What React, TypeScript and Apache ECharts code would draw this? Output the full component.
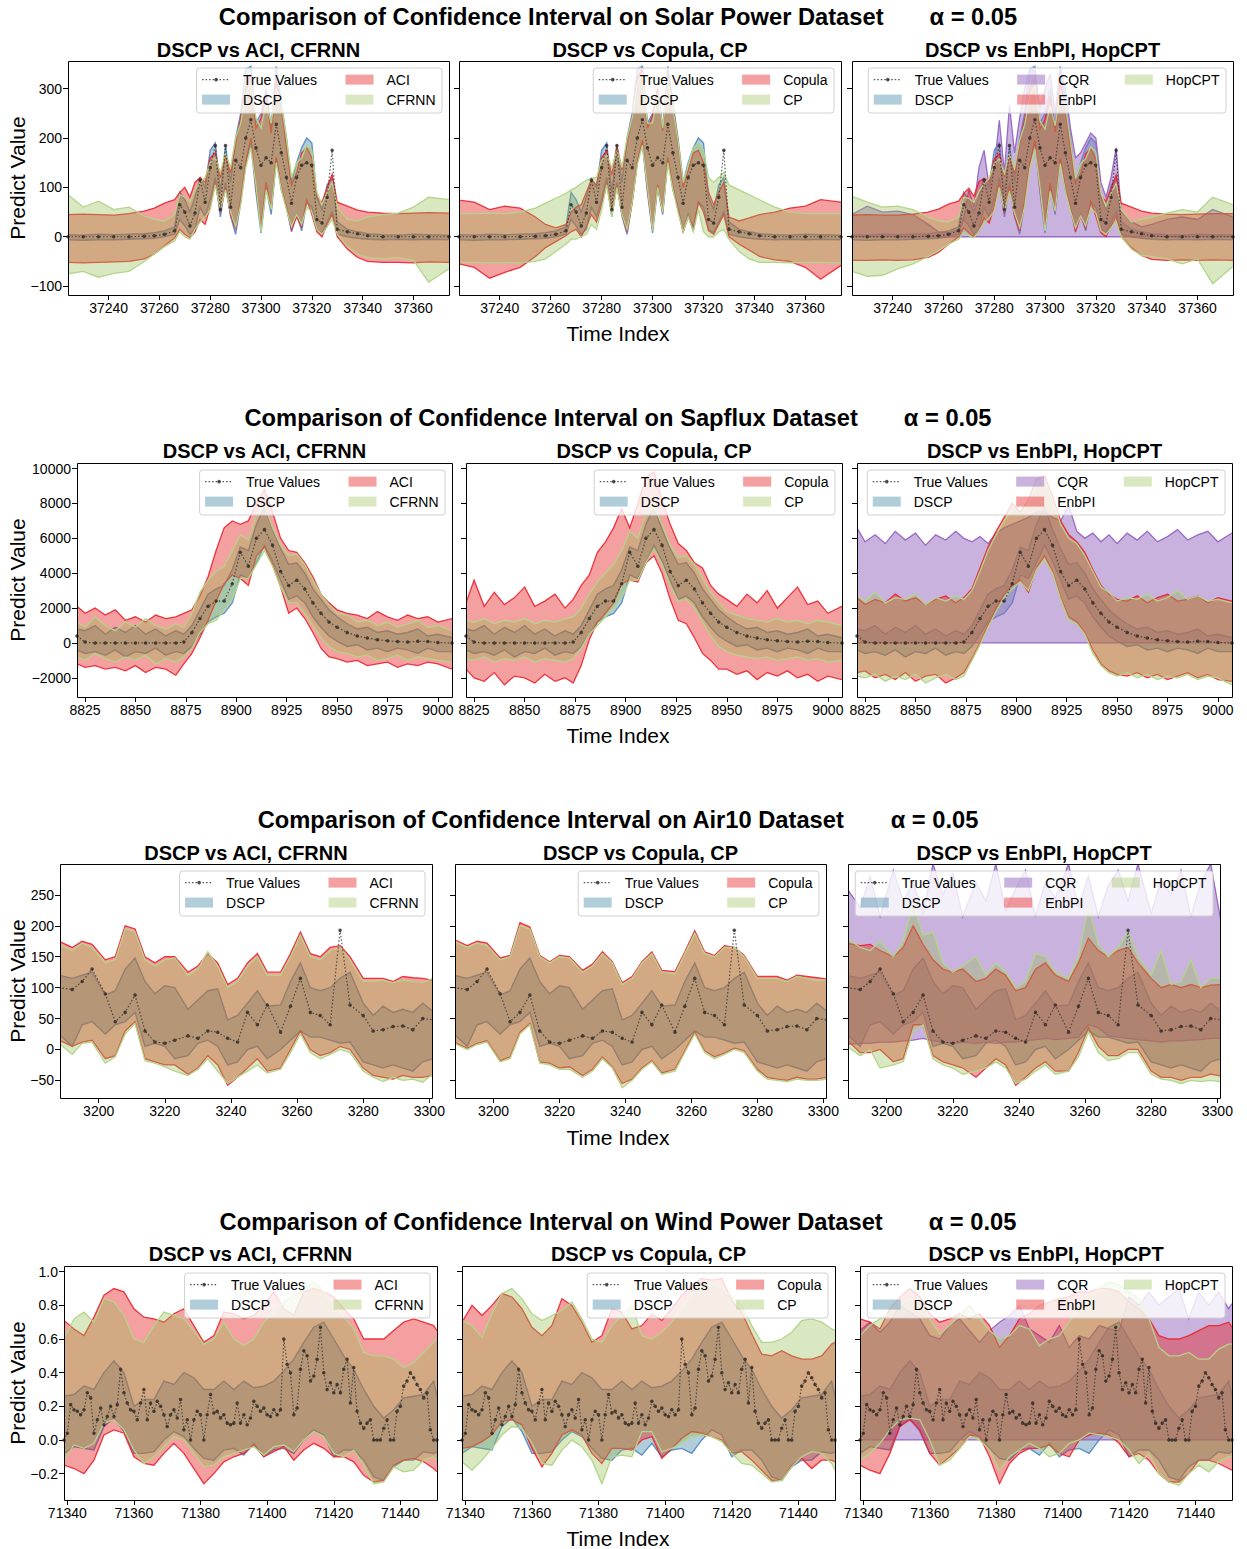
import React, { useEffect, useRef } from "react";
import * as echarts from "echarts";

// ================= Solar Power =================
const solarX = [37224,37230,37236,37242,37248,37254,37258,37262,37266,37268,37270,37272,37274,37276,37278,37280,37282,37284,37286,37288,37290,37292,37294,37296,37298,37300,37302,37304,37306,37308,37310,37312,37314,37316,37318,37320,37322,37324,37326,37328,37330,37334,37338,37342,37348,37354,37360,37366,37374];
const solarTrue = [0,0,0,0,0,1,2,5,12,65,50,22,48,115,70,140,185,55,185,60,155,140,200,237,180,145,160,150,228,170,120,68,120,145,150,145,35,28,80,175,15,10,6,2,0,0,0,0,0];
const solarDscpLo = [-6,-7,-6,-6,-5,-4,-3,0,5,35,22,5,15,60,40,75,120,40,110,42,5,70,150,190,90,8,100,45,160,95,60,10,45,12,70,60,15,8,30,50,5,0,-3,-5,-6,-5,-6,-5,-6];
const solarDscpHi = [4,3,5,4,5,6,8,12,20,90,75,50,80,118,100,175,190,90,185,110,200,250,340,345,230,250,300,220,345,270,200,110,150,180,200,190,80,55,105,120,30,15,10,6,4,3,5,4,3];
const solarAciLo = [-52,-53,-52,-51,-50,-45,-35,-18,-2,15,5,-2,10,35,25,60,110,50,100,45,15,75,150,200,100,20,110,55,160,100,60,15,40,20,75,45,10,0,25,45,0,-25,-42,-50,-52,-52,-53,-51,-52];
const solarAciHi = [45,46,45,44,47,52,58,68,75,90,100,80,110,120,110,160,170,120,165,130,190,240,300,330,220,240,290,210,320,260,180,105,130,170,180,160,80,70,100,127,70,62,54,50,48,47,48,49,48];
const solarCfrnnLo = [-75,-70,-82,-74,-70,-50,-35,-20,-8,10,0,-5,15,30,40,55,105,55,95,50,20,65,140,180,105,10,95,55,150,95,55,20,45,25,60,50,15,5,20,35,5,-20,-35,-42,-45,-42,-48,-92,-65];
const solarCfrnnHi = [85,60,72,55,60,42,35,32,45,85,80,70,95,110,120,150,160,130,170,140,200,230,290,310,240,220,270,230,300,270,200,120,150,160,185,175,90,65,90,110,60,35,32,40,45,48,60,80,75];
const solarCopulaLo = [-55,-62,-84,-72,-62,-40,-22,-10,2,10,15,0,20,45,30,65,110,45,105,45,10,70,150,195,95,15,105,50,160,100,55,10,40,20,70,50,12,5,25,45,0,-15,-27,-40,-47,-50,-62,-86,-58];
const solarCopulaHi = [74,70,55,62,58,40,25,18,25,50,60,65,90,115,105,160,175,125,185,135,190,240,320,340,220,245,300,215,330,265,190,100,135,170,175,150,90,65,90,110,40,32,38,45,50,58,62,75,70];
const solarCpLo = [-52,-52,-53,-52,-53,-50,-45,-30,-15,-5,-5,0,5,25,15,55,105,40,100,45,15,70,145,185,100,12,100,50,150,95,50,10,40,10,55,10,0,0,10,15,-5,-30,-45,-52,-52,-53,-52,-52,-53];
const solarCpHi = [47,47,48,47,50,58,68,78,88,95,100,108,115,118,120,155,165,140,175,140,200,240,310,330,230,230,290,220,320,260,195,110,145,180,190,175,120,110,120,130,105,95,85,75,60,50,47,47,47];
const solarCqrLo = [0,0,0,0,0,0,0,0,0,0,0,0,0,0,0,0,0,0,0,0,0,0,0,0,0,0,0,0,0,0,0,0,0,0,0,0,0,0,0,0,0,0,0,0,0,0,0,0,0];
const solarCqrHi = [45,62,50,52,45,25,10,8,15,40,95,60,140,175,100,140,236,130,266,170,240,300,340,335,260,300,330,250,340,300,220,160,170,190,210,200,110,80,120,180,50,30,20,25,35,40,35,55,40];
const solarEnbpiLo = [-48,-48,-47,-48,-47,-42,-32,-15,0,18,8,0,12,38,28,62,108,48,102,42,12,72,148,195,98,18,108,52,158,98,58,12,42,18,72,42,8,0,22,42,0,-22,-38,-46,-48,-47,-48,-47,-48];
const solarEnbpiHi = [44,45,44,44,46,50,56,66,72,88,98,82,112,118,112,158,168,122,162,128,188,238,298,325,218,238,285,212,315,255,178,108,128,168,178,158,82,72,98,125,68,60,52,48,46,45,46,47,47];
const solarHopLo = [-70,-80,-78,-65,-55,-40,-28,-15,-5,8,2,-2,12,28,38,52,100,52,92,48,18,62,138,178,102,12,92,52,148,92,52,18,42,22,58,48,12,5,18,30,0,-25,-38,-40,-45,-55,-45,-95,-60];
const solarHopHi = [82,70,60,62,55,40,32,30,40,80,78,70,92,108,118,148,158,128,168,138,195,228,285,305,235,218,265,225,295,265,195,118,148,158,182,172,88,62,88,108,55,30,35,40,48,55,50,80,65];
const solarXTicks = [37240, 37260, 37280, 37300, 37320, 37340, 37360];
const solarYTicks = [-100, 0, 100, 200, 300];

// ================= Sapflux =================
const sapX = [8821,8825,8830,8835,8840,8845,8850,8855,8860,8865,8870,8874,8878,8882,8886,8890,8894,8898,8902,8906,8910,8914,8918,8922,8926,8930,8934,8938,8942,8946,8950,8955,8960,8965,8970,8975,8980,8985,8990,8995,9000,9007];
const sapTrue = [400,50,0,0,0,0,0,0,0,0,0,50,600,1400,2100,2400,2400,3400,5200,4400,6000,6500,5600,4100,3300,3600,3100,2300,1700,1200,900,600,400,280,180,120,80,50,100,80,20,0];
const sapDscpLo = [-400,-600,-500,-700,-400,-800,-500,-600,-300,-700,-500,-600,-200,500,1200,1500,1700,2300,3900,3700,4600,5600,4700,3600,2500,2700,2300,1500,900,400,100,-200,-100,-400,-300,-500,-300,-400,-600,-300,-500,-500];
const sapDscpHi = [800,700,1000,500,900,600,1000,500,800,400,700,500,1000,1900,2800,3100,3300,4200,5500,5300,6800,7800,6500,5400,4500,4600,4000,3100,2500,1900,1500,1100,800,900,600,700,500,600,800,400,500,300];
const sapAciLo = [-1200,-1400,-1300,-1500,-1400,-1600,-1300,-1700,-1400,-1500,-1850,-1200,-600,300,1300,2400,3400,3900,3700,3300,5000,5500,4500,3200,1700,2000,1400,600,-300,-800,-900,-1100,-1000,-1300,-1200,-1100,-1400,-1200,-1300,-1100,-1200,-1500];
const sapAciHi = [2100,1700,2000,1600,1900,1300,1500,1200,1600,1400,1500,1700,1900,2700,3800,5300,6600,7000,6800,7000,8000,8800,7500,6000,5300,5200,4600,3800,2800,2300,1900,1700,1600,1400,1800,1500,1300,1600,1400,1500,1200,1400];
const sapCfrnnLo = [-800,-1000,-600,-900,-1100,-800,-1000,-700,-1200,-900,-1100,-800,-300,600,1100,1300,1900,2500,3700,3700,4500,5300,4400,3200,2300,2300,1700,1000,300,-200,-500,-600,-800,-700,-1000,-900,-700,-1000,-800,-900,-1000,-1100];
const sapCfrnnHi = [1200,900,1500,1000,700,1200,900,1400,1000,800,1100,900,1700,2900,3600,4100,4400,5300,6200,5900,7300,7900,6600,5600,5000,5100,4500,3600,2800,2200,1700,1600,1200,1300,1000,1200,900,1100,1300,900,1000,700];
const sapCopulaLo = [-1500,-2000,-2200,-1700,-2400,-1900,-2000,-2300,-1800,-2200,-2000,-2300,-1300,200,1200,1700,2300,3400,3600,3500,4600,5000,4000,2500,1300,1100,300,-600,-1000,-1500,-1500,-1800,-1600,-2100,-1700,-1900,-1600,-2000,-1800,-2200,-1900,-2100];
const sapCopulaHi = [2300,3600,2100,2900,2200,2600,3200,2100,2400,2800,2000,2500,3300,3900,5200,5800,6600,7700,6600,8000,9500,9800,8200,6800,5700,5300,4600,4300,3300,2800,2500,2100,2800,2300,3000,2000,2600,3200,2200,2400,1700,2100];
const sapCpLo = [-900,-1000,-800,-1100,-900,-1000,-800,-1100,-900,-1000,-1100,-900,-300,500,1000,1500,2000,2600,3600,3600,4600,5400,4500,3300,2400,2500,2000,1200,400,-200,-500,-700,-800,-900,-800,-1000,-900,-800,-1000,-900,-1100,-1000];
const sapCpHi = [1300,1200,1400,1100,1300,1200,1400,1100,1300,1200,1400,1500,2000,2800,3500,4000,4500,5300,6400,6000,7400,7800,6800,5600,4900,5000,4500,3700,2900,2300,1800,1600,1400,1300,1200,1400,1200,1300,1100,1300,1200,1000];
const sapCqrLo = [0,0,0,0,0,0,0,0,0,0,0,0,0,0,0,0,0,0,0,0,0,0,0,0,0,0,0,0,0,0,0,0,0,0,0,0,0,0,0,0,0,0];
const sapCqrHi = [6600,5800,6200,5700,6400,5900,6300,5600,6200,5900,6400,6000,5800,6100,5700,6300,6600,6800,7000,7200,7500,7600,7200,7000,7900,6400,6000,6300,5800,6200,5700,6300,5900,6400,5800,6100,6500,5900,6200,6400,5800,6300];
const sapEnbpiLo = [-1700,-1600,-2000,-1800,-2100,-1700,-2200,-1900,-1800,-2300,-2000,-1700,-900,0,1000,2000,2800,3300,3600,2900,4300,5000,4100,2600,1500,1200,600,-400,-1200,-1600,-1800,-1900,-1700,-2000,-1800,-2100,-1900,-1700,-2000,-1800,-2100,-2200];
const sapEnbpiHi = [2600,2200,2500,2300,2800,2400,2600,2200,2500,2700,2300,2600,3100,4300,5500,6400,7200,8000,7500,8200,9400,9600,8400,7000,6200,5800,5200,4200,3300,2800,2500,2400,2700,2300,2600,2800,2400,2500,2700,2300,2600,2400];
const sapHopLo = [-1900,-2000,-1800,-2200,-1900,-2100,-1800,-2300,-2000,-1800,-2100,-1900,-1000,-100,900,1800,2600,3100,3500,3000,4200,4800,4000,2500,1300,1100,500,-600,-1300,-1700,-1900,-1700,-2000,-1800,-2100,-1900,-2000,-1800,-2100,-1900,-2000,-2400];
const sapHopHi = [2700,2400,2900,2300,2600,2500,2800,2200,2600,2400,2700,2500,3000,4100,5300,6200,7000,7700,7400,8000,9200,9400,8200,6800,6000,5700,5000,4100,3200,2900,2400,2600,2500,2800,2400,2600,3000,2500,2700,2400,2500,2300];
const sapXTicks = [8825, 8850, 8875, 8900, 8925, 8950, 8975, 9000];
const sapYTicks = [-2000, 0, 2000, 4000, 6000, 8000, 10000];

// ================= Air10 =================
const airX = [3188,3192,3195,3198,3202,3205,3208,3211,3214,3217,3220,3223,3227,3230,3233,3236,3239,3242,3245,3248,3251,3255,3258,3261,3264,3267,3270,3273,3276,3280,3283,3286,3289,3292,3295,3298,3301];
const airTrue = [100,97,110,130,90,45,60,88,30,12,10,15,22,18,30,28,18,12,60,40,72,28,70,115,60,55,40,193,72,55,30,32,37,38,32,50,48];
const airDscpLo = [25,5,40,45,25,40,45,60,5,10,5,-15,-10,10,15,5,-25,-20,0,5,-15,0,15,30,20,20,15,10,12,-20,-25,-30,-25,-30,-35,-20,-15];
const airDscpHi = [120,115,120,125,88,95,130,148,110,90,103,100,65,80,95,98,48,55,75,95,70,72,110,140,100,95,100,115,125,75,55,70,60,65,60,75,62];
const airAciLo = [15,5,12,15,-15,-10,30,45,-15,-20,-25,-25,-40,-30,-10,-25,-58,-45,-30,-15,-35,-30,0,30,0,-10,-5,5,0,-30,-42,-45,-48,-42,-45,-45,-42];
const airAciHi = [175,165,175,170,145,150,200,195,150,140,150,150,125,135,155,140,105,115,140,155,125,125,155,190,155,150,165,168,150,115,115,115,110,118,116,115,112];
const airCfrnnLo = [10,-8,10,12,-22,-12,25,42,-18,-22,-28,-35,-42,-32,-15,-35,-55,-45,-35,-25,-38,-32,-5,25,-5,-15,-8,0,-5,-35,-45,-52,-45,-50,-48,-53,-40];
const airCfrnnHi = [170,160,172,165,140,145,195,190,145,135,145,148,120,130,158,135,100,110,135,150,120,120,150,185,150,145,160,165,145,110,110,112,108,112,110,108,115];
const airCopulaLo = [12,2,10,14,-18,-12,28,42,-20,-22,-30,-28,-42,-32,-12,-28,-55,-48,-30,-18,-38,-32,-2,28,-2,-12,-6,2,-2,-32,-45,-48,-50,-45,-48,-48,-45];
const airCopulaHi = [178,168,175,172,148,152,205,198,152,142,152,150,128,138,158,142,108,118,142,158,128,126,158,192,158,152,168,165,152,118,118,118,112,120,118,116,114];
const airCpLo = [10,0,8,12,-20,-15,25,40,-22,-25,-32,-32,-45,-35,-15,-30,-62,-50,-32,-20,-40,-35,-5,25,-5,-15,-8,0,-5,-35,-48,-50,-52,-48,-50,-50,-48];
const airCpHi = [175,165,172,168,145,150,200,195,150,140,150,148,125,135,155,140,105,115,140,155,125,122,155,188,155,150,165,165,150,115,115,115,110,118,115,112,112];
const airCqrLo = [8,10,10,12,12,14,15,18,14,12,10,12,10,12,10,12,12,14,16,18,16,18,20,40,35,22,20,18,16,14,12,14,14,15,16,18,18];
const airCqrHi = [260,230,280,215,290,240,270,220,300,250,285,215,270,240,300,225,260,290,215,270,245,300,230,280,215,265,290,240,300,220,275,250,290,215,270,300,210];
const airEnbpiLo = [15,-5,-5,0,-20,-15,40,40,-10,-20,-25,-30,-45,-30,-15,-25,-58,-45,-30,-20,-35,-35,-5,35,5,-10,-10,0,0,-35,-45,-45,-50,-45,-45,-40,-43];
const airEnbpiHi = [172,168,170,160,150,165,200,170,145,130,125,130,110,115,130,120,95,100,130,140,120,110,140,180,160,150,160,165,140,115,100,105,100,105,100,104,105];
const airHopLo = [5,-10,0,-30,-25,-20,30,40,-15,-25,-30,-40,-35,-30,-20,-30,-55,-48,-35,-25,-40,-35,-12,28,-5,-18,-15,-5,-5,-40,-48,-50,-55,-50,-52,-50,-52];
const airHopHi = [180,165,160,175,150,175,235,185,190,140,125,135,150,120,140,125,100,110,155,150,125,115,150,232,170,150,165,190,150,120,160,105,110,145,100,115,115];
const airXTicks = [3200, 3220, 3240, 3260, 3280, 3300];
const airYTicks = [-50, 0, 50, 100, 150, 200, 250];

// ================= Wind Power =================
const windX = [71339,71342,71345,71348,71351,71354,71357,71360,71363,71366,71369,71372,71375,71378,71381,71384,71387,71390,71393,71396,71399,71402,71405,71408,71411,71414,71417,71420,71423,71426,71429,71432,71435,71438,71441,71444,71447,71450,71451];
const windTrueStart = 71339;
const windTrue = [0.00,0.04,0.21,0.18,0.17,0.15,0.18,0.28,0.25,0.04,0.12,0.19,0.09,0.14,0.20,0.14,0.21,0.42,0.28,0.22,0.18,0.17,0.12,0.22,0.30,0.12,0.22,0.17,0.23,0.20,0.15,0.08,0.15,0.18,0.13,0.24,0.06,0.12,0.00,0.12,0.17,0.15,0.00,0.15,0.27,0.16,0.17,0.13,0.15,0.10,0.09,0.10,0.22,0.10,0.15,0.09,0.13,0.23,0.20,0.17,0.19,0.15,0.14,0.18,0.15,0.18,0.60,0.45,0.40,0.15,0.19,0.42,0.53,0.50,0.35,0.38,0.48,0.67,0.40,0.30,0.34,0.28,0.33,0.28,0.42,0.48,0.22,0.43,0.17,0.10,0.07,0.10,0.12,0.00,0.00,0.00,0.07,0.12,0.00,0.00,0.17,0.20,0.32,0.35,0.40,0.37,0.33,0.30,0.25,0.28,0.06,0.00,0.00];
const windDscpLo = [-0.08,-0.04,-0.05,-0.06,0.08,0.13,0.05,-0.08,-0.08,-0.07,0.0,0.05,0.02,-0.05,-0.11,-0.12,-0.06,-0.05,-0.09,-0.02,-0.10,-0.06,-0.05,-0.08,0.0,0.06,0.03,-0.10,-0.06,-0.06,-0.12,-0.22,-0.24,-0.16,-0.12,-0.12,-0.07,-0.08,-0.07];
const windDscpHi = [0.26,0.27,0.32,0.30,0.40,0.47,0.40,0.20,0.24,0.24,0.35,0.33,0.40,0.37,0.30,0.30,0.35,0.30,0.35,0.31,0.32,0.35,0.41,0.48,0.58,0.67,0.70,0.60,0.50,0.42,0.30,0.20,0.13,0.18,0.25,0.26,0.27,0.35,0.26];
const windAciLo = [-0.15,-0.17,-0.20,-0.12,0.03,0.06,0.04,-0.10,-0.14,-0.15,-0.08,-0.02,-0.08,-0.17,-0.26,-0.20,-0.13,-0.10,-0.08,-0.03,-0.10,-0.07,-0.04,-0.12,-0.06,-0.02,-0.05,-0.10,-0.10,-0.13,-0.21,-0.25,-0.24,-0.15,-0.12,-0.11,-0.13,-0.17,-0.19];
const windAciHi = [0.71,0.66,0.62,0.73,0.86,0.90,0.88,0.78,0.73,0.72,0.70,0.75,0.78,0.68,0.58,0.62,0.76,0.75,0.72,0.74,0.80,0.88,0.78,0.74,0.88,0.90,0.88,0.85,0.78,0.72,0.60,0.60,0.60,0.65,0.70,0.72,0.70,0.68,0.65];
const windCfrnnLo = [-0.12,-0.03,-0.05,-0.02,0.10,0.12,0.06,-0.06,-0.14,-0.10,-0.04,0.02,0.0,-0.08,-0.16,-0.15,-0.10,-0.08,-0.06,-0.04,-0.09,-0.04,-0.03,-0.07,0.0,0.05,0.02,-0.08,-0.10,-0.06,-0.15,-0.26,-0.25,-0.16,-0.19,-0.18,-0.12,-0.10,-0.12];
const windCfrnnHi = [0.60,0.72,0.76,0.70,0.84,0.82,0.74,0.60,0.58,0.68,0.76,0.74,0.72,0.65,0.57,0.60,0.70,0.60,0.56,0.60,0.70,0.76,0.82,0.86,0.89,0.94,0.88,0.80,0.73,0.66,0.52,0.50,0.50,0.48,0.43,0.46,0.52,0.58,0.60];
const windCopulaLo = [-0.05,-0.04,-0.01,0.03,0.11,0.12,0.09,-0.05,-0.16,-0.08,0.03,0.06,0.03,-0.08,-0.14,-0.05,-0.05,-0.06,0.0,0.02,-0.11,-0.05,0.01,0.05,0.04,0.02,0.0,-0.08,-0.07,-0.12,-0.18,-0.24,-0.24,-0.15,-0.11,-0.17,-0.12,-0.12,-0.13];
const windCopulaHi = [0.70,0.80,0.74,0.80,0.87,0.85,0.78,0.67,0.62,0.68,0.84,0.80,0.70,0.58,0.62,0.78,0.76,0.66,0.68,0.75,0.71,0.78,0.86,0.92,0.96,0.95,0.96,0.83,0.76,0.63,0.51,0.50,0.53,0.50,0.48,0.48,0.50,0.57,0.58];
const windCpLo = [-0.13,-0.18,-0.12,-0.05,0.03,0.08,0.07,-0.02,-0.14,-0.15,-0.06,0.0,-0.04,-0.12,-0.26,-0.10,-0.09,-0.10,0.05,0.05,-0.07,-0.05,-0.02,0.02,0.03,0.02,-0.01,-0.08,-0.14,-0.15,-0.20,-0.25,-0.24,-0.16,-0.10,-0.07,-0.08,-0.14,-0.18];
const windCpHi = [0.71,0.68,0.61,0.75,0.87,0.90,0.84,0.75,0.71,0.74,0.77,0.82,0.72,0.60,0.58,0.68,0.74,0.80,0.62,0.60,0.64,0.70,0.78,0.86,0.92,0.93,0.91,0.85,0.80,0.68,0.58,0.58,0.60,0.64,0.71,0.72,0.70,0.66,0.65];
const windCqrLo = [0,0,0,0,0,0,0,0,0,0,0,0,0,0,0,0,0,0,0,0,0,0,0,0,0,0,0,0,0,0,0,0,0,0,0,0,0,0,0];
const windCqrHi = [0.65,0.70,0.64,0.70,0.80,0.76,0.72,0.62,0.60,0.68,0.72,0.65,0.58,0.65,0.70,0.74,0.80,0.66,0.62,0.58,0.68,0.55,0.62,0.60,0.68,0.66,0.65,0.85,0.80,0.88,0.80,0.85,0.90,0.72,0.88,0.80,0.88,0.78,0.81];
const windEnbpiLo = [-0.15,-0.18,-0.20,-0.08,0.08,0.12,0.06,-0.08,-0.15,-0.10,-0.05,0.03,0.02,-0.10,-0.26,-0.14,-0.08,-0.05,-0.05,-0.03,-0.08,-0.10,0.0,0.03,0.04,0.03,-0.02,-0.10,-0.08,-0.12,-0.20,-0.25,-0.25,-0.20,-0.12,-0.12,-0.14,-0.17,-0.18];
const windEnbpiHi = [0.72,0.70,0.66,0.78,0.85,0.90,0.85,0.75,0.70,0.72,0.75,0.72,0.75,0.68,0.55,0.62,0.72,0.75,0.80,0.82,0.84,0.85,0.88,0.88,0.90,0.90,0.88,0.82,0.78,0.72,0.62,0.60,0.60,0.62,0.65,0.68,0.68,0.70,0.67];
const windHopLo = [-0.12,-0.08,-0.02,0.06,0.12,0.13,0.12,0.0,-0.15,-0.12,-0.05,0.02,0.0,-0.06,-0.18,-0.10,-0.06,-0.02,-0.05,-0.10,-0.08,-0.02,0.0,0.04,0.03,0.02,0.0,-0.06,-0.14,-0.08,-0.20,-0.25,-0.27,-0.20,-0.15,-0.19,-0.13,-0.10,-0.10];
const windHopHi = [0.62,0.68,0.72,0.75,0.80,0.84,0.82,0.72,0.63,0.68,0.74,0.80,0.72,0.65,0.60,0.62,0.68,0.66,0.56,0.60,0.62,0.70,0.78,0.84,0.90,0.94,0.92,0.88,0.84,0.72,0.55,0.50,0.50,0.52,0.48,0.48,0.54,0.57,0.57];
const windXTicks = [71340, 71360, 71380, 71400, 71420, 71440];
const windYTicks = [-0.2, 0, 0.2, 0.4, 0.6, 0.8, 1.0];

// ================= Styling / layout =================
const FONT = '"Liberation Sans", Arial, Helvetica, sans-serif';
const COL: any = {
  dscp: { fill: "rgba(60,130,160,0.40)", stroke: "rgba(84,134,196,0.9)", lw: 1.4 },
  red: { fill: "rgba(228,26,28,0.42)", stroke: "rgba(234,35,48,0.9)", lw: 1.3 },
  green: { fill: "rgba(150,190,80,0.35)", stroke: "rgba(180,212,138,1)", lw: 1.3 },
  purple: { fill: "rgba(148,103,189,0.5)", stroke: "rgba(150,100,195,0.95)", lw: 1.3 },
};
const KEY: any = { DSCP: "dscp", ACI: "red", Copula: "red", EnbPI: "red", CFRNN: "green", CP: "green", HopCPT: "green", CQR: "purple" };

const DATASETS: any[] = [
  { title: "Solar Power", x: solarX, tx: solarX, ty: solarTrue, xr: [37224, 37374], yr: [-118, 356], xt: solarXTicks, yt: solarYTicks, dec: 0,
    b: { DSCP: [solarDscpLo, solarDscpHi], ACI: [solarAciLo, solarAciHi], CFRNN: [solarCfrnnLo, solarCfrnnHi], Copula: [solarCopulaLo, solarCopulaHi], CP: [solarCpLo, solarCpHi], CQR: [solarCqrLo, solarCqrHi], EnbPI: [solarEnbpiLo, solarEnbpiHi], HopCPT: [solarHopLo, solarHopHi] } },
  { title: "Sapflux", x: sapX, tx: sapX, ty: sapTrue, xr: [8821, 9007], yr: [-3100, 10320], xt: sapXTicks, yt: sapYTicks, dec: 0,
    b: { DSCP: [sapDscpLo, sapDscpHi], ACI: [sapAciLo, sapAciHi], CFRNN: [sapCfrnnLo, sapCfrnnHi], Copula: [sapCopulaLo, sapCopulaHi], CP: [sapCpLo, sapCpHi], CQR: [sapCqrLo, sapCqrHi], EnbPI: [sapEnbpiLo, sapEnbpiHi], HopCPT: [sapHopLo, sapHopHi] } },
  { title: "Air10", x: airX, tx: airX, ty: airTrue, xr: [3188.3, 3300.8], yr: [-78.5, 300], xt: airXTicks, yt: airYTicks, dec: 0,
    b: { DSCP: [airDscpLo, airDscpHi], ACI: [airAciLo, airAciHi], CFRNN: [airCfrnnLo, airCfrnnHi], Copula: [airCopulaLo, airCopulaHi], CP: [airCpLo, airCpHi], CQR: [airCqrLo, airCqrHi], EnbPI: [airEnbpiLo, airEnbpiHi], HopCPT: [airHopLo, airHopHi] } },
  { title: "Wind Power", x: windX, tx: windTrue.map((_, i) => windTrueStart + i), ty: windTrue, xr: [71339, 71451], yr: [-0.357, 1.034], xt: windXTicks, yt: windYTicks, dec: 1,
    b: { DSCP: [windDscpLo, windDscpHi], ACI: [windAciLo, windAciHi], CFRNN: [windCfrnnLo, windCfrnnHi], Copula: [windCopulaLo, windCopulaHi], CP: [windCpLo, windCpHi], CQR: [windCqrLo, windCqrHi], EnbPI: [windEnbpiLo, windEnbpiHi], HopCPT: [windHopLo, windHopHi] } },
];

const LAYOUT = [
  { top: 61, h: 234, cols: [[68, 449], [459, 841], [852, 1233]], sup: 17, sub: 50, xl: 333 },
  { top: 463, h: 234, cols: [[77, 452], [466, 842], [857, 1232]], sup: 418, sub: 451, xl: 735 },
  { top: 864, h: 234, cols: [[60, 432], [455, 826], [848, 1220]], sup: 820, sub: 853, xl: 1137 },
  { top: 1266, h: 234, cols: [[64, 437], [462, 835], [860, 1232]], sup: 1222, sub: 1254, xl: 1538 },
];

const PANELS = [
  { title: "DSCP vs ACI, CFRNN", methods: ["ACI", "CFRNN"], legend: [["True Values", "DSCP"], ["ACI", "CFRNN"]] },
  { title: "DSCP vs Copula, CP", methods: ["Copula", "CP"], legend: [["True Values", "DSCP"], ["Copula", "CP"]] },
  { title: "DSCP vs EnbPI, HopCPT", methods: ["CQR", "EnbPI", "HopCPT"], legend: [["True Values", "DSCP"], ["CQR", "EnbPI"], ["HopCPT"]] },
];

let measureCtx: any = null;
function tw(s: string, size: number, weight: string) {
  if (!measureCtx) measureCtx = document.createElement("canvas").getContext("2d");
  measureCtx.font = `${weight} ${size}px "Liberation Sans", Arial, sans-serif`;
  return measureCtx.measureText(s).width;
}

function txt(x: number, y: number, s: string, size: number, weight: string, align: string, z = 100) {
  return {
    type: "text", x, y, z, silent: true,
    style: { text: s, fontSize: size, fontWeight: weight, fontFamily: FONT, fill: "#000",
      textAlign: align, textVerticalAlign: "middle", align, verticalAlign: "middle" },
  };
}

function band(gi: number, xs: number[], lo: number[], hi: number[], col: any) {
  return {
    type: "custom", xAxisIndex: gi, yAxisIndex: gi, silent: true, clip: true, z: 2,
    data: xs.map((x, i) => [x, lo[i], hi[i]]),
    encode: { x: 0, y: [1, 2] },
    renderItem: (params: any, api: any) => {
      if (params.dataIndex !== 0) return null;
      const up = xs.map((x, i) => api.coord([x, hi[i]]));
      const dn = xs.map((x, i) => api.coord([x, lo[i]]));
      return {
        type: "group",
        children: [
          { type: "polygon", shape: { points: up.concat(dn.slice().reverse()) }, style: { fill: col.fill, stroke: "none" } },
          { type: "polyline", shape: { points: up }, style: { fill: "none", stroke: col.stroke, lineWidth: col.lw } },
          { type: "polyline", shape: { points: dn }, style: { fill: "none", stroke: col.stroke, lineWidth: col.lw } },
        ],
      };
    },
  };
}

function legendEls(right: number, top: number, cols: string[][]) {
  const widths = cols.map((c) => 41 + Math.max(...c.map((s) => tw(s, 14, "normal"))));
  const total = 5.5 + widths.reduce((a, b) => a + b, 0) + 28.5 * (cols.length - 1) + 6.5;
  const bx = right - 7 - total;
  const by = top + 7;
  const out: any[] = [
    { type: "rect", z: 100, silent: true, shape: { x: bx, y: by, width: total, height: 45, r: 3 },
      style: { fill: "rgba(255,255,255,0.8)", stroke: "#d0d0d0", lineWidth: 1 } },
  ];
  let cx = bx + 5.5;
  cols.forEach((c, ci) => {
    c.forEach((name, ri) => {
      const cy = by + 11.6 + ri * 20;
      if (name === "True Values") {
        out.push({ type: "line", z: 101, silent: true, shape: { x1: cx, y1: cy, x2: cx + 28, y2: cy },
          style: { stroke: "rgba(50,50,50,0.85)", lineWidth: 1.2, lineDash: [1.5, 2] } });
        out.push({ type: "circle", z: 101, silent: true, shape: { cx: cx + 14, cy, r: 1.8 }, style: { fill: "rgba(50,50,50,0.85)" } });
      } else {
        out.push({ type: "rect", z: 101, silent: true, shape: { x: cx, y: cy - 5, width: 28, height: 10 }, style: { fill: COL[KEY[name]].fill } });
      }
      out.push(txt(cx + 41, cy, name, 14, "normal", "left", 101));
    });
    cx += widths[ci] + 28.5;
  });
  return out;
}

function fmt(v: number, dec: number) {
  const s = dec ? Math.abs(v).toFixed(dec) : String(Math.abs(v));
  return v < 0 ? "\u2212" + s : s;
}

function buildOption() {
  const grid: any[] = [], xAxis: any[] = [], yAxis: any[] = [], series: any[] = [], els: any[] = [];
  const SUP = 23.7;
  DATASETS.forEach((ds, r) => {
    const L = LAYOUT[r];
    const tMain = `Comparison of Confidence Interval on ${ds.title} Dataset`;
    const tA = "\u03b1 = 0.05";
    const w1 = tw(tMain, SUP, "bold"), w2 = tw(tA, SUP, "bold");
    const start = 618 - (w1 + 46 + w2) / 2;
    els.push(txt(start, L.sup, tMain, SUP, "bold", "left"));
    els.push(txt(start + w1 + 46, L.sup, tA, SUP, "bold", "left"));
    els.push(txt(618, L.xl, "Time Index", 21, "normal", "center"));
    els.push({ ...txt(17, L.top + L.h / 2, "Predict Value", 21, "normal", "center"), rotation: Math.PI / 2 });
    PANELS.forEach((p, c) => {
      const gi = r * 3 + c;
      const [l, rr] = L.cols[c];
      grid.push({ left: l, top: L.top, width: rr - l, height: L.h, containLabel: false, show: false });
      xAxis.push({
        gridIndex: gi, type: "value", min: ds.xr[0], max: ds.xr[1],
        axisLine: { show: false, onZero: false },
        axisTick: { show: true, customValues: ds.xt, length: 5, lineStyle: { color: "#000", width: 1 } },
        axisLabel: { show: true, customValues: ds.xt, fontSize: 14, color: "#000", fontFamily: FONT, margin: 6, formatter: (v: number) => String(v) },
        splitLine: { show: false },
      });
      yAxis.push({
        gridIndex: gi, type: "value", min: ds.yr[0], max: ds.yr[1],
        axisLine: { show: false, onZero: false },
        axisTick: { show: true, customValues: ds.yt, length: 5, lineStyle: { color: "#000", width: 1 } },
        axisLabel: { show: c === 0, customValues: ds.yt, fontSize: 14, color: "#000", fontFamily: FONT, margin: 6, formatter: (v: number) => fmt(v, ds.dec) },
        splitLine: { show: false },
      });
      const methods = ["DSCP", ...p.methods];
      methods.forEach((m) => series.push(band(gi, ds.x, ds.b[m][0], ds.b[m][1], COL[KEY[m]])));
      series.push({
        type: "line", xAxisIndex: gi, yAxisIndex: gi, silent: true, z: 4, clip: true,
        data: ds.tx.map((x: number, i: number) => [x, ds.ty[i]]),
        showSymbol: true, showAllSymbol: true, symbol: "circle", symbolSize: 3.5,
        itemStyle: { color: "rgba(50,45,40,0.85)", borderWidth: 0 },
        lineStyle: { color: "rgba(50,50,50,0.8)", width: 1.2, type: [1.5, 2] },
      });
      els.push({ type: "rect", z: 90, silent: true, shape: { x: l + 0.5, y: L.top + 0.5, width: rr - l, height: L.h },
        style: { fill: "none", stroke: "#000", lineWidth: 1 } });
      els.push(txt((l + rr) / 2, L.sub, p.title, 20, "bold", "center"));
      legendEls(rr, L.top, p.legend).forEach((e) => els.push(e));
    });
  });
  return { animation: false, backgroundColor: "#fff", grid, xAxis, yAxis, series, graphic: { elements: els } };
}

export default function App() {
  const ref = useRef<HTMLDivElement>(null);
  useEffect(() => {
    const chart = echarts.init(ref.current as HTMLDivElement, null, { renderer: "svg", width: 1247, height: 1549 });
    chart.setOption(buildOption() as any);
    return () => chart.dispose();
  }, []);
  return <div ref={ref} style={{ position: "absolute", left: 0, top: 0, width: 1247, height: 1549, background: "#fff" }} />;
}
